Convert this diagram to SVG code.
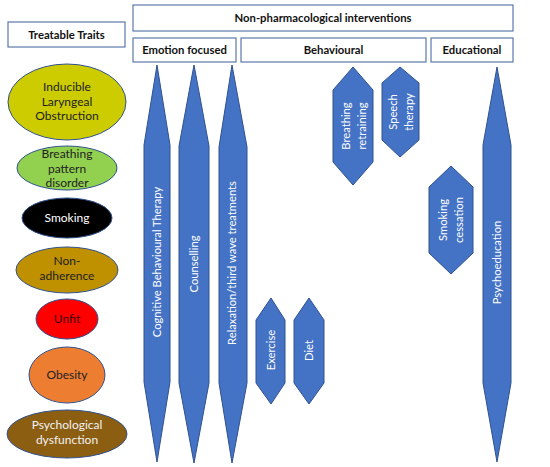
<svg xmlns="http://www.w3.org/2000/svg" width="550" height="467" viewBox="0 0 550 467">
<style>
.hdr{fill:#fff;stroke:#5b79a8;stroke-width:1.2}
.ht{font-family:Lato,"Liberation Sans",sans-serif;font-weight:bold;font-size:11.3px;fill:#111;text-anchor:middle}
.el{stroke:#2f528f;stroke-width:1}
.et{font-family:Lato,"Liberation Sans",sans-serif;font-size:12px;text-anchor:middle}
.ar{fill:#4472c4;stroke:#2f528f;stroke-width:1}
.at{font-family:Lato,"Liberation Sans",sans-serif;font-size:11.2px;fill:#fff;text-anchor:middle}
</style>
<rect width="550" height="467" fill="#fff"/>
<g id="treatable-traits"><rect class="hdr" x="8" y="22" width="117" height="25"/><text class="ht" x="66.5" y="38.5">Treatable Traits</text></g>
<g id="non-pharm"><rect class="hdr" x="133" y="5" width="380" height="26"/><text class="ht" x="323" y="22">Non-pharmacological interventions</text></g>
<g id="emotion-focused"><rect class="hdr" x="133" y="38" width="103" height="24"/><text class="ht" x="184.5" y="54">Emotion focused</text></g>
<g id="behavioural"><rect class="hdr" x="241" y="38" width="185" height="24"/><text class="ht" x="333.5" y="54">Behavioural</text></g>
<g id="educational"><rect class="hdr" x="431" y="38" width="82" height="24"/><text class="ht" x="472" y="54">Educational</text></g>

<g id="ilo"><ellipse class="el" cx="67" cy="102" rx="59" ry="38" fill="#cccc00"/><text class="et" fill="#222" x="67" y="91">Inducible</text><text class="et" fill="#222" x="67" y="105.5">Laryngeal</text><text class="et" fill="#222" x="67" y="120">Obstruction</text></g>
<g id="bpd"><ellipse class="el" cx="67" cy="168" rx="50" ry="22" fill="#92d050"/><text class="et" fill="#222" x="67" y="158">Breathing</text><text class="et" fill="#222" x="67" y="172.5">pattern</text><text class="et" fill="#222" x="67" y="187">disorder</text></g>
<g id="smoking"><ellipse class="el" cx="67" cy="218" rx="45" ry="20" fill="#000"/><text class="et" fill="#fff" x="67" y="222">Smoking</text></g>
<g id="non-adherence"><ellipse class="el" cx="67" cy="270" rx="51" ry="23" fill="#bf9000"/><text class="et" fill="#222" x="67" y="265">Non-</text><text class="et" fill="#222" x="67" y="280">adherence</text></g>
<g id="unfit"><ellipse class="el" cx="67" cy="319" rx="31" ry="20" fill="#ff0000"/><text class="et" fill="#3a0000" x="67" y="323">Unfit</text></g>
<g id="obesity"><ellipse class="el" cx="67" cy="375" rx="38" ry="28" fill="#ed7d31"/><text class="et" fill="#222" x="67" y="379">Obesity</text></g>
<g id="psych"><ellipse class="el" cx="67" cy="434" rx="60" ry="24" fill="#8c5e12"/><text class="et" fill="#f2f2f2" x="67" y="429">Psychological</text><text class="et" fill="#f2f2f2" x="67" y="444">dysfunction</text></g>

<g id="connectors">
<g id="cbt"><polygon class="ar" points="157,65 170,145 170,382 157,462 144,382 144,145"/><text class="at" transform="translate(157,262) rotate(-90)" dy="4">Cognitive Behavioural Therapy</text></g>
<g id="counselling"><polygon class="ar" points="194,65 209,146 209,383 194,463 179,383 179,146"/><text class="at" transform="translate(194,264) rotate(-90)" dy="4">Counselling</text></g>
<g id="relaxation"><polygon class="ar" points="232,65 247,147 247,383 232,463 219,383 219,147"/><text class="at" transform="translate(232,263) rotate(-90)" dy="4">Relaxation/third wave treatments</text></g>
<g id="exercise"><polygon class="ar" points="271,298 285,320 285,383 271,404 256,383 256,320"/><text class="at" transform="translate(271,350) rotate(-90)" dy="4">Exercise</text></g>
<g id="diet"><polygon class="ar" points="309,298 324,320 324,383 309,404 294,383 294,320"/><text class="at" transform="translate(309,350.5) rotate(-90)" dy="4">Diet</text></g>
<g id="breathing-retraining"><polygon class="ar" points="353,67 373,90 373,162 353,185 333,162 333,90"/><text class="at" transform="translate(346,126) rotate(-90)" dy="4">Breathing</text><text class="at" transform="translate(362,126) rotate(-90)" dy="4">retraining</text></g>
<g id="speech-therapy"><polygon class="ar" points="400,67 419,83 419,140 400,157 382,140 382,83"/><text class="at" transform="translate(393,112) rotate(-90)" dy="4">Speech</text><text class="at" transform="translate(409,112) rotate(-90)" dy="4">therapy</text></g>
<g id="smoking-cessation"><polygon class="ar" points="451,166 473,187 473,253 451,274 429,253 429,187"/><text class="at" transform="translate(443,220) rotate(-90)" dy="4">Smoking</text><text class="at" transform="translate(459,220) rotate(-90)" dy="4">cessation</text></g>
<g id="psychoeducation"><polygon class="ar" points="497,67 511,145 511,383 497,462 483,383 483,145"/><text class="at" transform="translate(497,262.5) rotate(-90)" dy="4">Psychoeducation</text></g>
</g>
</svg>
